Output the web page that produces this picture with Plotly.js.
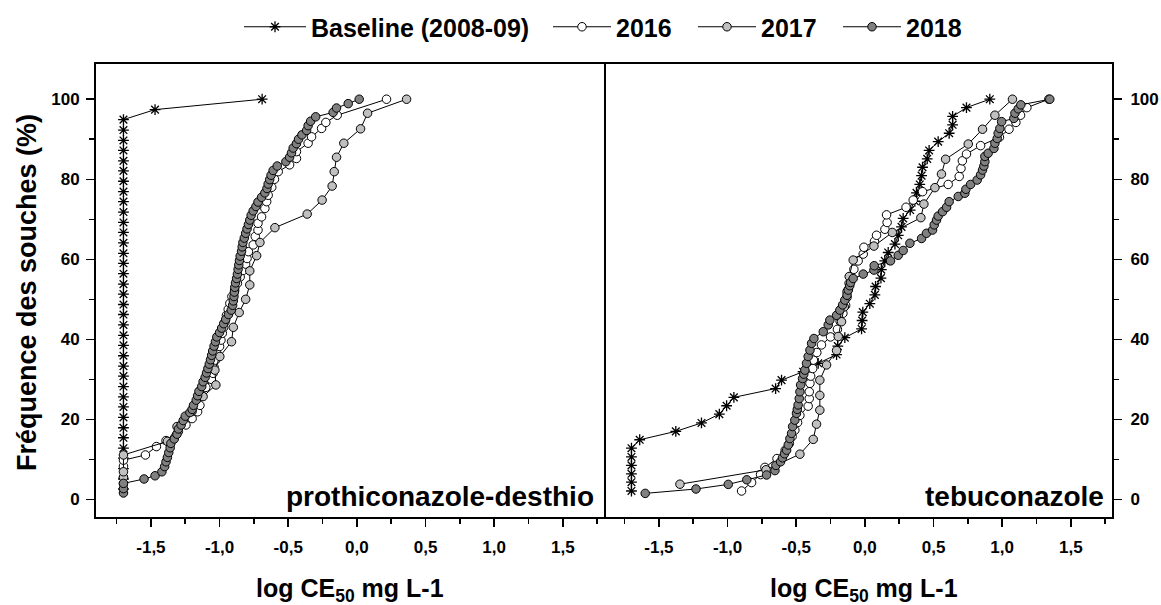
<!DOCTYPE html>
<html>
<head>
<meta charset="utf-8">
<script src="https://cdn.plot.ly/plotly-3.0.1.min.js"></script>
<style>html,body{margin:0;padding:0;background:#fff;}</style>
</head>
<body>
<div id="chart" style="width:1161px;height:605px;"></div>
<script>
// ---------- DATA ----------
const seriesNames = ['Baseline (2008-09)', '2016', '2017', '2018'];
const panelLabels = ['prothiconazole-desthio', 'tebuconazole'];
const xTickVals = [-1.5, -1.0, -0.5, 0.0, 0.5, 1.0, 1.5];
const xTickText = ['-1,5', '-1,0', '-0,5', '0,0', '0,5', '1,0', '1,5'];
const xMinorVals = [-1.75, -1.25, -0.75, -0.25, 0.25, 0.75, 1.25, 1.75];
const yTickVals = [0, 20, 40, 60, 80, 100];
const yMinorVals = [10, 30, 50, 70, 90];

// Left panel: prothiconazole-desthio
const protBaseX = [-1.7,-1.7,-1.7,-1.7,-1.7,-1.7,-1.7,-1.7,-1.7,-1.7,-1.7,-1.7,-1.7,-1.7,-1.7,-1.7,-1.7,-1.7,-1.7,-1.7,-1.7,-1.7,-1.7,-1.7,-1.7,-1.7,-1.7,-1.7,-1.7,-1.7,-1.7,-1.7,-1.7,-1.7,-1.7,-1.7,-1.7,-1.47,-0.69];
const protBaseY = [2.6,5.1,7.7,10.3,12.8,15.4,17.9,20.5,23.1,25.6,28.2,30.8,33.3,35.9,38.5,41.0,43.6,46.2,48.7,51.3,53.8,56.4,59.0,61.5,64.1,66.7,69.2,71.8,74.4,76.9,79.5,82.1,84.6,87.2,89.7,92.3,94.9,97.4,100];

const prot2016X = [-1.70,-1.70,-1.70,-1.70,-1.54,-1.46,-1.39,-1.30,-1.245,-1.20,-1.16,-1.143,-1.13,-1.10,-1.06,-1.047,-1.04,-1.03,-1.02,-1.00,-0.99,-0.98,-0.97,-0.96,-0.95,-0.937,-0.925,-0.91,-0.89,-0.87,-0.85,-0.83,-0.81,-0.80,-0.79,-0.755,-0.74,-0.72,-0.72,-0.694,-0.67,-0.657,-0.646,-0.62,-0.60,-0.573,-0.49,-0.44,-0.44,-0.355,-0.33,-0.257,-0.226,-0.143,0.216];
const prot2016Y = [4.0,5.5,8.3,9.8,11.1,13.2,14.7,17.0,18.6,20.2,21.9,23.5,26.0,28.0,30.0,31.5,33.0,34.8,36.5,38.2,39.8,41.5,43.0,44.4,46.0,47.5,49.0,50.7,52.3,54.0,55.6,57.2,58.8,60.2,61.9,63.6,65.7,67.3,69.0,70.6,72.7,74.4,76.0,78.0,80.0,81.9,83.6,85.2,86.9,89.0,90.6,92.7,94.2,96.0,100];

const prot2017X = [-1.70,-1.70,-1.70,-1.38,-1.31,-1.20,-1.12,-1.027,-1.034,-0.998,-0.913,-0.90,-0.857,-0.81,-0.78,-0.78,-0.73,-0.706,-0.597,-0.362,-0.253,-0.18,-0.165,-0.148,-0.095,0.027,0.078,0.362];
const prot2017Y = [5.5,6.9,11.1,14.5,18.2,22.0,25.7,28.6,32.3,35.7,39.4,43.0,46.7,50.0,53.6,57.1,60.9,64.2,67.9,71.3,74.8,78.3,81.9,85.5,89.0,92.6,96.5,100];

const prot2018X = [-1.70,-1.70,-1.70,-1.55,-1.47,-1.42,-1.40,-1.39,-1.38,-1.37,-1.36,-1.355,-1.33,-1.31,-1.30,-1.28,-1.265,-1.25,-1.216,-1.20,-1.19,-1.17,-1.16,-1.15,-1.13,-1.12,-1.105,-1.095,-1.085,-1.075,-1.066,-1.058,-1.05,-1.04,-1.03,-1.02,-1.00,-0.985,-0.97,-0.955,-0.935,-0.915,-0.905,-0.90,-0.895,-0.892,-0.889,-0.884,-0.876,-0.87,-0.865,-0.86,-0.855,-0.85,-0.84,-0.835,-0.83,-0.82,-0.81,-0.80,-0.79,-0.78,-0.77,-0.755,-0.735,-0.72,-0.694,-0.67,-0.655,-0.646,-0.635,-0.625,-0.61,-0.58,-0.517,-0.49,-0.476,-0.464,-0.44,-0.425,-0.40,-0.366,-0.355,-0.337,-0.30,-0.173,-0.148,-0.063,0.017];
const prot2018Y = [1.6,2.7,4.0,5.1,5.9,6.9,8.2,9.4,10.5,11.7,12.9,14.0,15.1,16.3,17.6,18.6,19.7,20.8,21.7,22.5,23.5,24.8,25.9,27.0,28.2,29.4,30.5,31.6,32.7,33.8,34.9,36.0,37.1,38.3,39.4,40.6,41.7,42.8,43.9,45.0,46.2,47.3,48.5,49.6,50.7,51.8,53.0,54.1,55.2,56.3,57.5,58.6,59.7,60.8,62.0,63.1,64.2,65.3,66.5,67.6,68.7,69.8,71.0,72.1,73.2,74.3,75.5,76.6,77.7,78.8,79.9,81.0,82.2,83.3,84.4,85.5,86.6,87.8,88.9,90.0,91.1,92.2,93.4,94.5,95.6,96.7,97.8,98.9,100];

// Right panel: tebuconazole
const tebuBaseX = [-1.70,-1.70,-1.70,-1.70,-1.70,-1.70,-1.64,-1.377,-1.19,-1.06,-1.007,-0.954,-0.65,-0.607,-0.45,-0.34,-0.206,-0.197,-0.146,-0.024,-0.02,-0.015,0.036,0.073,0.078,0.117,0.12,0.145,0.17,0.219,0.243,0.267,0.279,0.33,0.364,0.376,0.40,0.413,0.42,0.454,0.468,0.534,0.614,0.639,0.639,0.74,0.91];
const tebuBaseY = [2.1,4.3,6.4,8.5,10.6,12.8,14.9,17.0,19.1,21.3,23.4,25.5,27.7,29.8,31.9,34.0,36.2,38.3,40.4,42.6,44.7,46.8,48.9,51.1,53.2,55.3,57.4,59.6,61.7,63.8,66.0,68.1,70.2,72.3,74.5,76.6,78.7,80.9,83.0,85.1,87.2,89.4,91.5,93.6,95.7,97.9,100];

const tebu2016X = [-0.898,-0.825,-0.76,-0.728,-0.64,-0.58,-0.55,-0.53,-0.51,-0.49,-0.473,-0.413,-0.405,-0.405,-0.40,-0.395,-0.38,-0.375,-0.35,-0.316,-0.25,-0.20,-0.18,-0.16,-0.14,-0.13,-0.12,-0.115,-0.11,-0.08,-0.049,-0.012,-0.007,0.07,0.085,0.146,0.162,0.158,0.30,0.352,0.42,0.607,0.687,0.70,0.71,0.74,0.843,0.98,1.05,1.10,1.134,1.18,1.34];
const tebu2016Y = [2.1,4.2,6.2,8.0,10.2,12.3,14.0,15.7,17.3,19.2,21.0,23.3,25.2,26.9,29.0,30.8,32.7,34.8,36.7,38.6,40.6,42.5,44.5,46.5,48.5,50.5,52.5,54.0,55.6,57.5,59.6,61.3,63.0,64.5,66.0,67.5,69.2,71.1,73.0,74.8,76.9,78.7,80.7,82.7,84.6,86.3,88.4,90.5,92.5,94.2,96.0,97.9,100];

const tebu2017X = [-1.347,-0.72,-0.473,-0.376,-0.352,-0.328,-0.328,-0.328,-0.279,-0.206,-0.194,-0.17,-0.15,-0.13,-0.114,-0.085,0.066,0.20,0.408,0.43,0.51,0.558,0.588,0.753,0.857,0.947,1.075];
const tebu2017Y = [3.8,7.4,11.3,15.0,18.8,22.3,26.0,29.8,33.6,37.2,40.7,44.4,48.1,51.9,55.7,59.8,63.3,66.7,70.4,73.8,77.9,81.3,85.0,88.8,92.5,96.0,100];

const tebu2018X = [-1.60,-1.23,-0.995,-0.86,-0.716,-0.655,-0.648,-0.614,-0.60,-0.585,-0.57,-0.558,-0.546,-0.534,-0.526,-0.51,-0.498,-0.492,-0.486,-0.478,-0.473,-0.468,-0.454,-0.445,-0.437,-0.425,-0.413,-0.40,-0.388,-0.371,-0.303,-0.267,-0.255,-0.206,-0.182,-0.162,-0.146,-0.13,-0.121,-0.11,-0.104,-0.085,-0.012,0.066,0.068,0.187,0.243,0.279,0.328,0.413,0.449,0.493,0.505,0.522,0.534,0.566,0.595,0.614,0.68,0.728,0.736,0.77,0.818,0.843,0.857,0.867,0.874,0.874,0.898,0.94,0.947,0.964,0.971,0.983,0.996,1.085,1.093,1.117,1.136,1.347];
const tebu2018Y = [1.5,2.6,3.75,4.9,6.1,7.2,8.5,9.4,10.4,11.4,12.3,13.6,15.2,16.5,18.2,19.8,21.5,22.5,23.6,25.2,26.9,28.6,30.2,31.3,32.3,34.0,35.7,37.3,39.0,40.2,41.9,43.6,44.8,46.0,47.3,48.6,49.8,51.0,52.3,53.4,54.2,55.2,56.3,57.3,58.4,59.6,61.0,62.2,64.0,65.2,66.5,67.3,68.6,69.8,70.8,71.9,73.0,74.4,75.7,76.5,77.5,78.7,79.8,81.1,82.3,83.3,84.4,85.7,86.5,87.7,89.0,90.2,91.5,92.7,94.4,95.2,96.5,97.6,98.6,100];

// ---------- STYLES ----------
const FONT = 'Liberation Sans, Arial, Helvetica, sans-serif';
const styles = [
  {marker: {symbol: 'asterisk-open', size: 9, color: 'black', line: {color: 'black', width: 1.3}}},
  {marker: {symbol: 'circle', size: 8.5, color: '#ffffff', line: {color: 'black', width: 1}}},
  {marker: {symbol: 'circle', size: 8.5, color: '#c0c0c0', line: {color: 'black', width: 1}}},
  {marker: {symbol: 'circle', size: 8.5, color: '#808080', line: {color: 'black', width: 1}}}
];

function mk(i, xs, ys, xa, ya, legend) {
  return {
    type: 'scatter', mode: 'lines+markers', name: seriesNames[i],
    x: xs, y: ys, xaxis: xa, yaxis: ya,
    line: {color: 'black', width: 1},
    marker: styles[i].marker,
    showlegend: legend, legend: i === 0 ? 'legend' : 'legend2',
    legendgroup: 'g' + i, cliponaxis: false
  };
}

const data = [
  mk(0, protBaseX, protBaseY, 'x', 'y', true),
  mk(1, prot2016X, prot2016Y, 'x', 'y', true),
  mk(2, prot2017X, prot2017Y, 'x', 'y', true),
  mk(3, prot2018X, prot2018Y, 'x', 'y', true),
  mk(0, tebuBaseX, tebuBaseY, 'x2', 'y2', false),
  mk(1, tebu2016X, tebu2016Y, 'x2', 'y2', false),
  mk(2, tebu2017X, tebu2017Y, 'x2', 'y2', false),
  mk(3, tebu2018X, tebu2018Y, 'x2', 'y2', false)
];

const W = 1161, H = 605;
const dL = [96 / W, 604 / W], dR = [604 / W, 1112 / W];
const dY = [88 / H, 541 / H];
const xRange = [-1.9, 1.8], yRange = [-4.4, 108.8];
const tickFont = {family: FONT, size: 17, weight: 'bold', color: 'black'};

function xAx(domain, anchor) {
  return {
    domain: domain, anchor: anchor, range: xRange,
    tickmode: 'array', tickvals: xTickVals, ticktext: xTickText,
    ticks: 'outside', ticklen: 8, tickwidth: 1.5, tickcolor: 'black', ticklabelstandoff: 6,
    showline: true, linewidth: 2, linecolor: 'black', mirror: true,
    showgrid: false, zeroline: false, tickfont: tickFont,
    minor: {tickmode: 'array', tickvals: xMinorVals, ticks: 'outside', ticklen: 5, tickwidth: 1.5, tickcolor: 'black', showgrid: false}
  };
}
function xTop(over, anchor) {
  return {
    overlaying: over, anchor: anchor, side: 'top', range: xRange,
    tickmode: 'array', tickvals: xTickVals, ticks: 'inside', ticklen: 8, tickwidth: 1.5, tickcolor: 'black',
    showticklabels: false, showline: false, showgrid: false, zeroline: false,
    minor: {tickmode: 'array', tickvals: xMinorVals, ticks: 'inside', ticklen: 5, tickwidth: 1.5, tickcolor: 'black', showgrid: false}
  };
}
function yAx(anchor, side, mirror, standoff) {
  return {
    domain: dY, anchor: anchor, side: side, range: yRange,
    tickmode: 'array', tickvals: yTickVals,
    ticks: 'outside', ticklen: 8, tickwidth: 1.5, tickcolor: 'black', ticklabelstandoff: standoff,
    showline: true, linewidth: 2, linecolor: 'black', mirror: mirror,
    showgrid: false, zeroline: false, tickfont: tickFont,
    minor: {tickmode: 'array', tickvals: yMinorVals, ticks: 'outside', ticklen: 5, tickwidth: 1.5, tickcolor: 'black', showgrid: false}
  };
}

const legendFont = {family: FONT, size: 25, weight: 'bold', color: 'black'};

const layout = {
  width: W, height: H,
  margin: {l: 0, r: 0, t: 0, b: 0},
  paper_bgcolor: '#ffffff', plot_bgcolor: 'rgba(0,0,0,0)',
  separators: ', ',
  font: {family: FONT, color: 'black'},
  showlegend: true,
  legend: {
    orientation: 'h', x: 239 / W, xanchor: 'left', y: 1 - 27 / H, yanchor: 'middle',
    font: legendFont, itemwidth: 62, bgcolor: 'rgba(0,0,0,0)'
  },
  legend2: {
    orientation: 'h', x: 548 / W, xanchor: 'left', y: 1 - 27 / H, yanchor: 'middle',
    font: legendFont, itemwidth: 58, entrywidth: 72, entrywidthmode: 'pixels', bgcolor: 'rgba(0,0,0,0)'
  },
  xaxis: xAx(dL, 'y'),
  xaxis2: xAx(dR, 'y2'),
  xaxis3: xTop('x', 'y'),
  xaxis4: xTop('x2', 'y2'),
  yaxis: yAx('x', 'left', true, 3),
  yaxis2: yAx('x2', 'right', false, 5),
  annotations: [
    {text: 'Fréquence des souches (%)', xref: 'paper', yref: 'paper', x: 27 / W, y: 1 - 293 / H,
     xanchor: 'center', yanchor: 'middle', textangle: -90, showarrow: false,
     font: {family: FONT, size: 27, weight: 'bold', color: 'black'}},
    {text: 'log CE<sub>50</sub> mg L-1', xref: 'paper', yref: 'paper', x: 350 / W, y: 1 - 590 / H,
     xanchor: 'center', yanchor: 'middle', showarrow: false,
     font: {family: FONT, size: 25, weight: 'bold', color: 'black'}},
    {text: 'log CE<sub>50</sub> mg L-1', xref: 'paper', yref: 'paper', x: 864 / W, y: 1 - 590 / H,
     xanchor: 'center', yanchor: 'middle', showarrow: false,
     font: {family: FONT, size: 25, weight: 'bold', color: 'black'}},
    {text: panelLabels[0], xref: 'paper', yref: 'paper', x: 596 / W, y: 1 - 496 / H,
     xanchor: 'right', yanchor: 'middle', showarrow: false,
     font: {family: FONT, size: 28, weight: 'bold', color: 'black'}},
    {text: panelLabels[1], xref: 'paper', yref: 'paper', x: 1106 / W, y: 1 - 496 / H,
     xanchor: 'right', yanchor: 'middle', showarrow: false,
     font: {family: FONT, size: 28, weight: 'bold', color: 'black'}}
  ]
};

Plotly.newPlot('chart', data, layout, {displayModeBar: false, staticPlot: true});
</script>
</body>
</html>
